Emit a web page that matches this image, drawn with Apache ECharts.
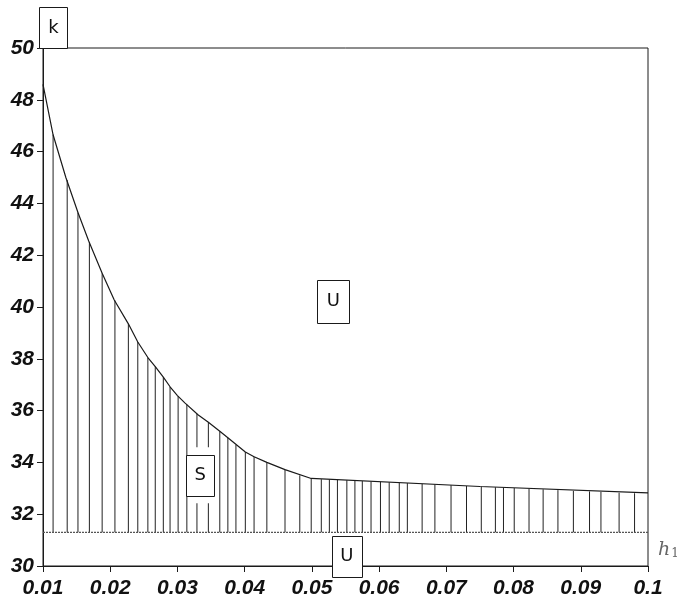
<!DOCTYPE html>
<html>
<head>
<meta charset="utf-8">
<script src="https://cdn.jsdelivr.net/npm/echarts@6/dist/echarts.min.js"></script>
<style>html,body{margin:0;padding:0;background:#fff}#c{width:677px;height:601px}</style>
</head>
<body>
<div id="c"></div>
<script>
// Boundary curve (h1, k)
const hCurve = [0.01, 0.0115, 0.0134, 0.0152, 0.0168, 0.0188, 0.0206, 0.0227, 0.0241, 0.0256, 0.0267, 0.0279, 0.0289, 0.0300, 0.0311, 0.0331, 0.0346, 0.0363, 0.0375, 0.0401, 0.0414, 0.0433, 0.0460, 0.0499, 0.075, 0.1];
const kCurve = [48.6, 46.65, 45.0, 43.65, 42.55, 41.3, 40.27, 39.35, 38.65, 38.05, 37.70, 37.29, 36.92, 36.58, 36.3, 35.83, 35.55, 35.2, 34.95, 34.40, 34.22, 34.0, 33.72, 33.38, 33.07, 32.82];
// Hatch lines of the stable region S
const hatchH = [0.0115, 0.0136, 0.0152, 0.0169, 0.0188, 0.0207, 0.0227, 0.0241, 0.0256, 0.0267, 0.0279, 0.0289, 0.0301, 0.0314, 0.0329, 0.0346, 0.0363, 0.0375, 0.0387, 0.0401, 0.0414, 0.0433, 0.0460, 0.0482, 0.0499, 0.0514, 0.0526, 0.0538, 0.0552, 0.0564, 0.0575, 0.0588, 0.0602, 0.0615, 0.0630, 0.0642, 0.0664, 0.0683, 0.0707, 0.0730, 0.0752, 0.0773, 0.0785, 0.0801, 0.0823, 0.0844, 0.0866, 0.0889, 0.0913, 0.0930, 0.0957, 0.0980];
const hatchTop = [46.65, 44.9, 43.65, 42.5, 41.3, 40.25, 39.35, 38.65, 38.05, 37.7, 37.29, 36.92, 36.56, 36.24, 35.87, 35.55, 35.2, 34.95, 34.68, 34.40, 34.22, 34.0, 33.72, 33.5, 33.38, 33.35, 33.34, 33.32, 33.31, 33.29, 33.28, 33.26, 33.25, 33.23, 33.22, 33.2, 33.17, 33.15, 33.12, 33.09, 33.07, 33.04, 33.03, 33.01, 32.98, 32.96, 32.93, 32.90, 32.88, 32.86, 32.83, 32.81];
const baseK = 31.3;
// Region labels: text, h1, k
const regionText = ['U', 'S', 'U'];
const regionH = [0.0532, 0.0334, 0.0552];
const regionK = [40.23, 33.5, 30.37];

const chart = echarts.init(document.getElementById('c'), null, {renderer: 'canvas'});
const ink = '#1a1a1a';
const labelFont = {fontFamily: 'Liberation Sans, Arial, sans-serif', fontWeight: 'bold', fontStyle: 'italic', fontSize: 21, color: '#111'};

chart.setOption({
  animation: false,
  backgroundColor: '#fff',
  grid: {left: 43, right: 29, top: 48, bottom: 35, show: true, borderColor: ink, borderWidth: 1, backgroundColor: 'transparent'},
  xAxis: {
    type: 'value', min: 0.01, max: 0.1, interval: 0.01,
    axisLine: {onZero: false, lineStyle: {color: ink, width: 1}},
    axisTick: {length: 6, lineStyle: {color: ink}},
    axisLabel: Object.assign({margin: 12}, labelFont),
    splitLine: {show: false}
  },
  yAxis: {
    type: 'value', min: 30, max: 50, interval: 2,
    axisLine: {show: true, onZero: false, lineStyle: {color: ink, width: 1}},
    axisTick: {show: true, length: 6, lineStyle: {color: ink}},
    axisLabel: Object.assign({margin: 9}, labelFont),
    splitLine: {show: false}
  },
  series: [
    {
      type: 'custom', z: 2,
      data: hatchH.map((h, i) => [h, hatchTop[i]]),
      renderItem: function (params, api) {
        const p1 = api.coord([api.value(0), baseK]);
        const p2 = api.coord([api.value(0), api.value(1)]);
        return {type: 'line', shape: {x1: p1[0], y1: p1[1], x2: p2[0], y2: p2[1]}, style: {stroke: '#222', lineWidth: 1}};
      }
    },
    {
      type: 'line', z: 3, showSymbol: false,
      data: hCurve.map((h, i) => [h, kCurve[i]]),
      lineStyle: {color: ink, width: 1.2}
    },
    {
      type: 'line', z: 3, showSymbol: false,
      data: [[0.01, baseK], [0.1, baseK]],
      lineStyle: {color: '#555', width: 1.2, type: [2, 1]}
    }
  ]
});

function px(h, k) { return chart.convertToPixel({gridIndex: 0}, [h, k]); }
const boxW = [32, 28, 30];
const boxH = [43, 41, 41];
const g = [];
function addBox(cx, cy, w, h, text, fs) {
  g.push({type: 'rect', z: 100, shape: {x: Math.round(cx - w / 2) + 0.5, y: Math.round(cy - h / 2) + 0.5, width: w, height: h}, style: {fill: '#fff', stroke: ink, lineWidth: 1}});
  g.push({type: 'text', z: 101, x: cx, y: cy, style: {text: text, fontFamily: 'DejaVu Sans, sans-serif', fontSize: fs, fill: '#111', align: 'center', verticalAlign: 'middle'}});
}
// gap in hatching around the S box
const sp = px(regionH[1], regionK[1]);
g.push({type: 'rect', z: 99, shape: {x: sp[0] - 12, y: sp[1] - 28, width: 24, height: 56}, style: {fill: '#fff'}});
for (let i = 0; i < regionText.length; i++) {
  const p = px(regionH[i], regionK[i]);
  addBox(p[0], p[1], boxW[i], boxH[i], regionText[i], 18);
}
// k label box at the top-left
const tl = px(0.01, 50);
g.push({type: 'rect', z: 100, shape: {x: tl[0] - 3.5, y: tl[1] - 40.5, width: 28, height: 41}, style: {fill: '#fff', stroke: ink, lineWidth: 1}});
g.push({type: 'text', z: 101, x: tl[0] + 10.5, y: tl[1] - 20, style: {text: 'k', fontFamily: 'DejaVu Sans, sans-serif', fontSize: 18, fill: '#111', align: 'center', verticalAlign: 'middle'}});
// h1 axis name
const br = px(0.1, baseK);
g.push({type: 'text', z: 101, x: br[0] + 10, y: br[1] + 18, style: {
  text: '{h|h}{s|1}', verticalAlign: 'middle',
  rich: {h: {fontFamily: 'DejaVu Serif, Liberation Serif, serif', fontStyle: 'italic', fontSize: 19, fill: '#666', color: '#666'},
         s: {fontFamily: 'DejaVu Serif, Liberation Serif, serif', fontSize: 12, fill: '#666', color: '#666', padding: [8, 0, 0, 1]}}
}});
chart.setOption({graphic: g});
</script>
</body>
</html>
